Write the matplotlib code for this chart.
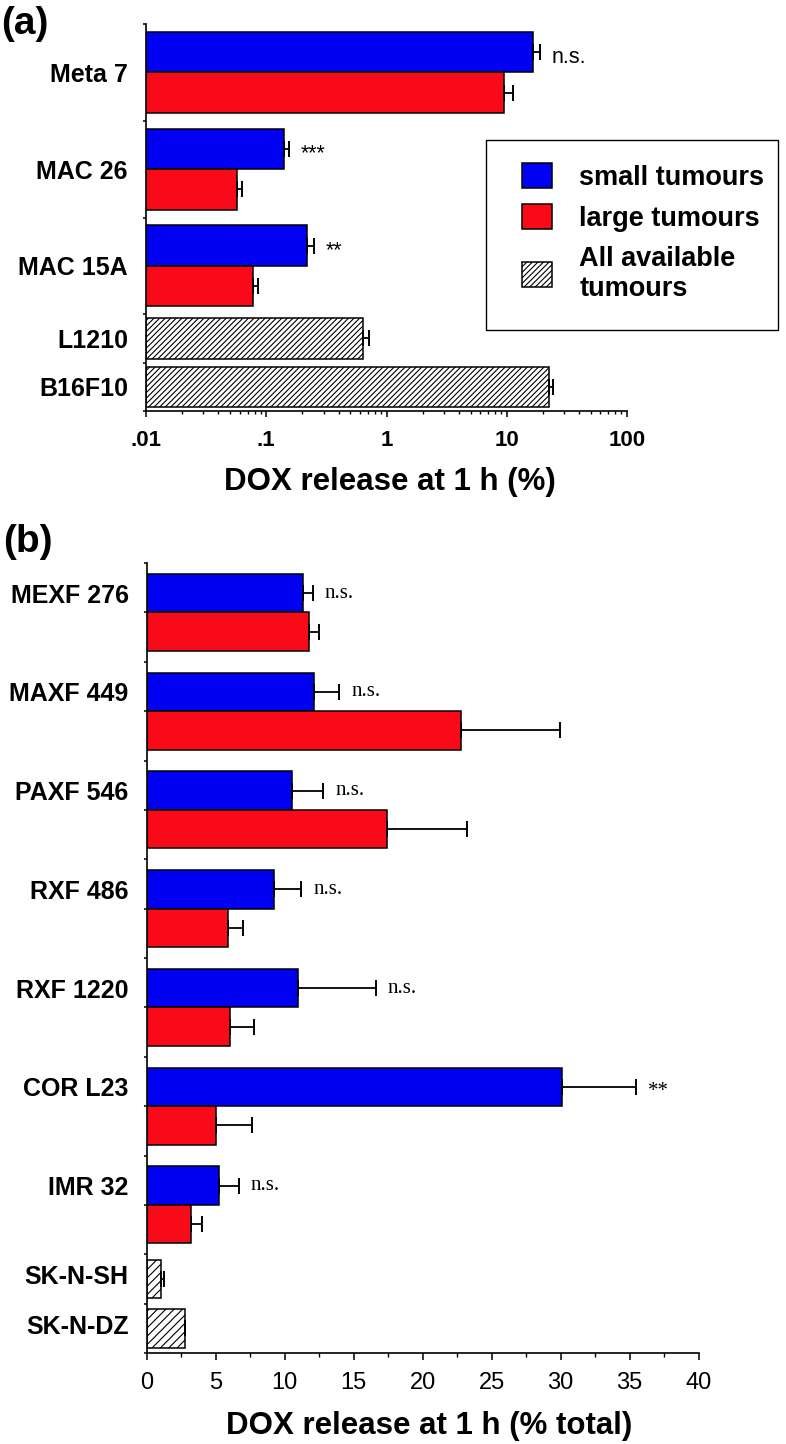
import matplotlib.pyplot as plt
import numpy as np
from matplotlib.patches import Patch, Rectangle
from matplotlib.ticker import FixedLocator, LogLocator, NullFormatter

plt.rcParams['font.family'] = ['Liberation Sans', 'DejaVu Sans']
plt.rcParams['hatch.linewidth'] = 0.8

# ---- panel (a): DOX release, log scale ----
pairs_a = ['Meta 7', 'MAC 26', 'MAC 15A']
small_a = [16.6, 0.141, 0.219]
small_a_err = [2.2, 0.013, 0.030]
large_a = [9.5, 0.0574, 0.078]
large_a_err = [1.8, 0.0056, 0.008]
sig_a = ['n.s.', '***', '**']
singles_a = ['L1210', 'B16F10']
all_a = [0.633, 22.5]
all_a_err = [0.087, 1.8]

# ---- panel (b): DOX release, % total ----
pairs_b = ['MEXF 276', 'MAXF 449', 'PAXF 546', 'RXF 486', 'RXF 1220', 'COR L23', 'IMR 32']
small_b = [11.35, 12.12, 10.55, 9.26, 10.94, 30.07, 5.22]
small_b_err = [0.68, 1.84, 2.25, 1.94, 5.66, 5.36, 1.45]
large_b = [11.78, 22.77, 17.4, 5.9, 6.05, 4.99, 3.19]
large_b_err = [0.71, 7.18, 5.83, 1.1, 1.72, 2.67, 0.8]
sig_b = ['n.s.', 'n.s.', 'n.s.', 'n.s.', 'n.s.', '**', 'n.s.']
singles_b = ['SK-N-SH', 'SK-N-DZ']
all_b = [1.04, 2.8]
all_b_err = [0.21, 0.0]

BLUE = '#0000f2'
RED = '#f80a18'


def draw_panel(ax, pairs, small, small_err, large, large_err, sig,
               singles, allv, all_err, h, base, hatch, sig_font, sig_size,
               sig_dy, label_at_blue):
    n = len(pairs)
    centers = np.arange(n) * 2 + 1.0
    s_centers = 2 * n + np.arange(len(singles)) + 0.5
    nslots = 2 * n + len(singles)

    small = np.array(small)
    large = np.array(large)
    allv = np.array(allv)
    kw = dict(align='edge', edgecolor='black', linewidth=1.1, zorder=2)
    ax.barh(centers - h, small - base, height=h, left=base, color=BLUE, **kw)
    ax.barh(centers, large - base, height=h, left=base, color=RED, **kw)
    ax.barh(s_centers - h / 2, allv - base, height=h, left=base,
            color='white', hatch=hatch, **kw)

    ekw = dict(fmt='none', ecolor='black', elinewidth=1.3, capsize=6,
               capthick=1.4, zorder=3)
    ax.errorbar(small, centers - h / 2, xerr=[np.zeros(n), small_err], **ekw)
    ax.errorbar(large, centers + h / 2, xerr=[np.zeros(n), large_err], **ekw)
    ax.errorbar(allv, s_centers, xerr=[np.zeros(len(allv)), all_err], **ekw)

    for v, e, yc, s in zip(small, small_err, centers - h / 2, sig):
        dy = -5 if s.startswith('*') else sig_dy
        ax.annotate(s, xy=(v + e, yc), xytext=(12, dy), textcoords='offset pixels',
                    va='center', ha='left', fontsize=sig_size, family=sig_font)

    if label_at_blue:
        lab_pos = list(centers - h / 2) + list(s_centers - 0.08)
    else:
        lab_pos = list(centers) + list(s_centers)
    ax.set_yticks(lab_pos)
    ax.set_yticklabels(pairs + singles, fontsize=18, fontweight='bold')
    ax.yaxis.set_minor_locator(FixedLocator(np.arange(nslots + 1)))
    ax.tick_params(axis='y', which='major', length=0, pad=13)
    ax.tick_params(axis='y', which='minor', length=2.5, width=1.1)
    ax.set_ylim(nslots, 0)

    for sp in ['top', 'right']:
        ax.spines[sp].set_visible(False)
    for sp in ['left', 'bottom']:
        ax.spines[sp].set_linewidth(1.2)


W, H = 786, 1444
fig = plt.figure(figsize=(W / 100, H / 100), dpi=100)

ax_a = fig.add_axes([146 / W, 1 - 411 / H, (627 - 146) / W, (411 - 24) / H])
ax_a.set_xscale('log')
draw_panel(ax_a, pairs_a, small_a, small_a_err, large_a, large_a_err, sig_a,
           singles_a, all_a, all_a_err, 0.835, 0.01, '//////',
           ['Liberation Sans', 'DejaVu Sans'], 15.5, -5, False)
ax_a.set_xlim(0.01, 100)
ax_a.set_xticks([0.01, 0.1, 1, 10, 100])
ax_a.set_xticklabels(['.01', '.1', '1', '10', '100'], fontsize=16, fontweight='bold')
ax_a.xaxis.set_minor_locator(LogLocator(base=10, subs=np.arange(2, 10)))
ax_a.xaxis.set_minor_formatter(NullFormatter())
ax_a.tick_params(axis='x', which='major', length=4.5, width=1.1, pad=9)
ax_a.tick_params(axis='x', which='minor', length=2.5, width=1.0)
ax_a.set_xlabel('DOX release at 1 h (%)', fontsize=22.5, fontweight='bold', va='center')
ax_a.xaxis.set_label_coords(0.507, -0.183)

# legend: frame drawn separately so inner padding can match
fig.patches.append(Rectangle((486 / W, 1 - 330 / H), (778 - 486) / W, (330 - 140) / H,
                             transform=fig.transFigure, fill=False,
                             edgecolor='black', linewidth=1.0))
leg = ax_a.legend(handles=[Patch(facecolor=BLUE, edgecolor='black', linewidth=1.1),
                           Patch(facecolor=RED, edgecolor='black', linewidth=1.1),
                           Patch(facecolor='white', edgecolor='black', linewidth=1.1, hatch='//////')],
                  labels=['small tumours', 'large tumours', 'All available\ntumours'],
                  loc='upper left', bbox_to_anchor=(522 / W, 1 - 163 / H),
                  bbox_transform=fig.transFigure, frameon=False,
                  borderpad=0, handlelength=1.11, handleheight=1.04,
                  handletextpad=1.0, labelspacing=0.5, borderaxespad=0,
                  prop={'size': 19.5, 'weight': 'bold'})

ax_b = fig.add_axes([146.7 / W, 1 - 1353 / H, (698.7 - 146.7) / W, (1353 - 563) / H])
draw_panel(ax_b, pairs_b, small_b, small_b_err, large_b, large_b_err, sig_b,
           singles_b, all_b, all_b_err, 0.78, 0.0, '////',
           ['Liberation Serif', 'DejaVu Serif'], 15, 0, True)
ax_b.set_xlim(0, 40)
ax_b.set_xticks(np.arange(0, 41, 5))
ax_b.tick_params(axis='x', which='major', labelsize=17, length=5, width=1.1, pad=9)
ax_b.xaxis.set_minor_locator(FixedLocator(np.arange(2.5, 40, 5)))
ax_b.tick_params(axis='x', which='minor', length=3, width=1.0)
ax_b.set_xlabel('DOX release at 1 h (% total)', fontsize=22.5, fontweight='bold', va='center')
ax_b.xaxis.set_label_coords(0.511, -0.093)

fig.text(1 / W, 1 - 24 / H, '(a)', fontsize=28, fontweight='bold', va='center', ha='left')
fig.text(3 / W, 1 - 542 / H, '(b)', fontsize=28, fontweight='bold', va='center', ha='left')

fig.savefig('out.png', dpi=100)
